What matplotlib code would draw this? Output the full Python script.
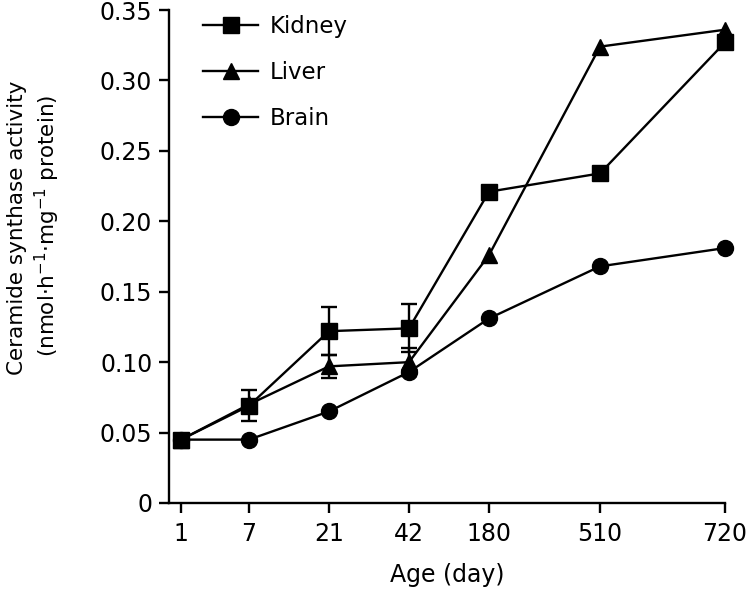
import matplotlib
matplotlib.use("Agg")
import matplotlib.pyplot as plt
from matplotlib.lines import Line2D
import numpy as np

# ---- data ----
days = ['1', '7', '21', '42', '180', '510', '720']
kidney = [0.045, 0.069, 0.122, 0.124, 0.221, 0.234, 0.327]
kidney_err = [0, 0.011, 0.017, 0.017, 0, 0, 0]
liver = [0.045, 0.070, 0.097, 0.100, 0.176, 0.324, 0.336]
liver_err = [0, 0, 0.008, 0.010, 0, 0, 0]
brain = [0.045, 0.045, 0.065, 0.093, 0.131, 0.168, 0.181]
yticks = [0, 0.05, 0.10, 0.15, 0.20, 0.25, 0.30, 0.35]
ytick_labels = ['0', '0.05', '0.10', '0.15', '0.20', '0.25', '0.30', '0.35']

# layout: uneven category spacing of the original axis
x_pos = np.array([12, 80, 160, 240, 320, 431, 556])

plt.rcParams['font.family'] = ['DejaVu Sans']
FS = 17
FS_LEG = 16.5
FS_LAB = 15.5

fig = plt.figure(figsize=(7.5, 5.9), dpi=100)
ax = fig.add_axes([169/750, 1 - 503/590, (725-169)/750, (503-10)/590])

lw = 1.7
ms = 11.5

def series(vals, errs, marker, ms_, z):
    vals = np.array(vals); errs = np.array(errs)
    ax.plot(x_pos, vals, color='black', lw=lw, marker=marker, ms=ms_,
            markerfacecolor='black', markeredgecolor='black', zorder=z,
            clip_on=False)
    m = errs > 0
    if m.any():
        ax.errorbar(x_pos[m], vals[m], yerr=errs[m], fmt='none', ecolor='black',
                    elinewidth=lw, capsize=6, capthick=lw, zorder=z)

series(liver, liver_err, '^', ms + 0.5, 3)
series(brain, [0]*7, 'o', ms, 4)
series(kidney, kidney_err, 's', ms, 5)

ax.set_xlim(0, 556)
ax.set_ylim(0, 0.35)
ax.set_xticks(x_pos)
ax.set_xticklabels(days)
ax.set_yticks(yticks)
ax.set_yticklabels(ytick_labels)
for s in ['top', 'right']:
    ax.spines[s].set_visible(False)
for s in ['left', 'bottom']:
    ax.spines[s].set_linewidth(1.7)
ax.tick_params(axis='both', direction='out', length=7, width=1.7, labelsize=FS)
ax.tick_params(axis='y', pad=5)
ax.tick_params(axis='x', pad=7)

fig.text(447/750, 1 - 575/590, 'Age (day)', ha='center', va='center', fontsize=FS)
fig.text(17/750, 1 - 228/590, 'Ceramide synthase activity', rotation=90,
         ha='center', va='center', fontsize=FS_LAB)
fig.text(47/750, 1 - 226/590, r'(nmol$\cdot$h$^{\mathregular{-1}}$$\cdot$mg$^{\mathregular{-1}}$ protein)',
         rotation=90, ha='center', va='center', fontsize=FS_LAB)

handles = [
    Line2D([], [], color='black', lw=lw, marker='s', ms=ms),
    Line2D([], [], color='black', lw=lw, marker='^', ms=ms + 0.5),
    Line2D([], [], color='black', lw=lw, marker='o', ms=ms),
]
ax.legend(handles, ['Kidney', 'Liver', 'Brain'], loc='upper left',
          bbox_to_anchor=(203/750, 1 - 15/590), bbox_transform=fig.transFigure,
          frameon=False, fontsize=FS_LEG, handlelength=2.4, handletextpad=0.5,
          labelspacing=1.0, borderpad=0, borderaxespad=0)

fig.savefig('out.png', dpi=100)
